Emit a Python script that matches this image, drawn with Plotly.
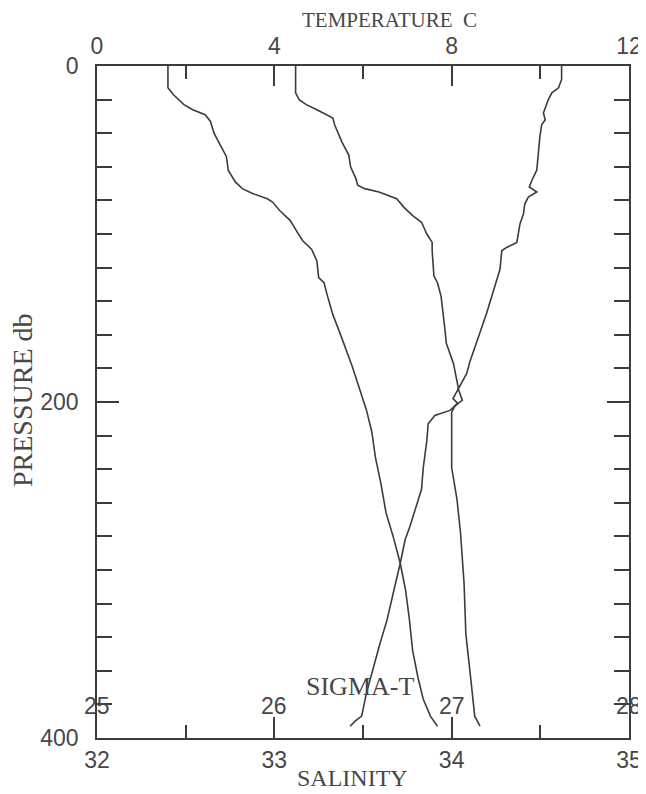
import plotly.graph_objects as go

# ---- data ----
sigma_p = [0, 13, 17, 23, 26, 29, 33, 40, 48, 54, 62, 69, 73, 76, 79, 81, 86, 92, 99, 104,
           109, 116, 126, 129, 137, 148, 159, 179, 205, 218, 233, 248, 266, 280, 296, 312,
           328, 348, 364, 377, 387, 393]
sigma_t = [25.40, 25.40, 25.43, 25.49, 25.54, 25.61, 25.64, 25.66, 25.70, 25.73, 25.74, 25.78,
           25.82, 25.88, 25.96, 25.99, 26.03, 26.09, 26.13, 26.16, 26.21, 26.24, 26.25, 26.28,
           26.30, 26.33, 26.37, 26.44, 26.52, 26.55, 26.57, 26.60, 26.63, 26.67, 26.71, 26.74,
           26.76, 26.78, 26.81, 26.84, 26.88, 26.92]

sal_p = [0, 16, 20, 23, 26, 31, 35, 45, 53, 60, 67, 71, 73, 75, 79, 84, 89, 93, 100, 105,
         110, 125, 129, 137, 155, 165, 177, 193, 199, 202, 206, 223, 239, 258, 278, 308,
         338, 367, 387, 393]
salinity = [33.12, 33.12, 33.14, 33.18, 33.24, 33.33, 33.34, 33.38, 33.42, 33.43, 33.46, 33.47,
            33.51, 33.59, 33.69, 33.73, 33.78, 33.83, 33.86, 33.89, 33.89, 33.90, 33.92, 33.94,
            33.96, 33.97, 34.01, 34.04, 34.06, 34.02, 34.00, 34.00, 34.00, 34.03, 34.05, 34.07,
            34.08, 34.11, 34.13, 34.16]

temp_p = [0, 8, 13, 16, 20, 25, 28, 32, 35, 42, 56, 62, 68, 72, 75, 78, 82, 88, 94, 100,
          105, 108, 110, 121, 127, 137, 147, 167, 176, 183, 193, 198, 201, 205, 208, 213,
          223, 239, 252, 258, 266, 274, 282, 296, 314, 330, 344, 358, 373, 387, 390, 393]
temperature = [10.48, 10.48, 10.41, 10.26, 10.18, 10.11, 10.07, 10.11, 10.03, 9.99, 9.95, 9.92,
               9.81, 9.75, 9.92, 9.73, 9.65, 9.62, 9.54, 9.50, 9.47, 9.24, 9.13, 9.09, 9.02,
               8.90, 8.79, 8.53, 8.41, 8.34, 8.14, 8.03, 8.14, 7.96, 7.62, 7.47, 7.44, 7.36,
               7.32, 7.25, 7.17, 7.06, 6.95, 6.84, 6.68, 6.54, 6.38, 6.23, 6.08, 5.97, 5.82, 5.71]

temp_ticks = [0, 4, 8, 12]
sal_ticks = [32, 33, 34, 35]
sigma_ticks = [25, 26, 27, 28]
pres_ticks = [0, 200, 400]

INK = "#3c3c3c"
TXT = "#474747"
NUM_FONT = dict(family="Liberation Sans, Arial, sans-serif", size=23, color=TXT)
SERIF = "Liberation Serif, Times New Roman, serif"

line_style = dict(color=INK, width=1.6)

fig = go.Figure()
fig.add_trace(go.Scatter(x=sigma_t, y=sigma_p, mode="lines", line=line_style,
                         xaxis="x3", yaxis="y", name="Sigma-t", showlegend=False))
fig.add_trace(go.Scatter(x=salinity, y=sal_p, mode="lines", line=line_style,
                         xaxis="x", yaxis="y", name="Salinity", showlegend=False))
fig.add_trace(go.Scatter(x=temperature, y=temp_p, mode="lines", line=line_style,
                         xaxis="x2", yaxis="y", name="Temperature", showlegend=False))
# dummy trace so the right-hand pressure axis is drawn
fig.add_trace(go.Scatter(x=[None], y=[None], xaxis="x", yaxis="y2", showlegend=False,
                         hoverinfo="skip"))

axis_common = dict(showline=True, linecolor=INK, linewidth=1.6, showgrid=False,
                   zeroline=False, ticks="inside", tickcolor=INK, tickwidth=1.6,
                   automargin=False)

sig_ann = [dict(x=v, y=381, xref="x3", yref="y", text=str(v), showarrow=False,
                font=NUM_FONT, xanchor="center", yanchor="middle") for v in sigma_ticks]

# the page body adds an 8px offset; figure is sized to fit the 646x794 window
OFF = 8
W, H = 646 - OFF, 794 - OFF
# plot box in page pixels: x 97..629, y 66..738
L = 97 - OFF
T = 66 - OFF
R = W - (629 - OFF)
B = H - (738 - OFF)
pw, ph = W - L - R, H - T - B

title_specs = [
    ("TEMPERATURE  C", 389, 20, 0, 21),
    ("SALINITY", 352, 778, 0, 24),
    ("PRESSURE db", 22, 400, -90, 28),
    ("SIGMA-T", 360, 686, 0, 26),
]
title_ann = []
for text, px, py, ang, size in title_specs:
    fx, fy = px - OFF, py - OFF
    title_ann.append(dict(
        x=(fx - L) / pw, y=(H - fy - B) / ph, xref="paper", yref="paper",
        text=text, textangle=ang, showarrow=False, xanchor="center", yanchor="middle",
        font=dict(family=SERIF, size=size, color=TXT)))

fig.update_layout(
    width=W, height=H,
    margin=dict(l=L, r=R, t=T, b=B, autoexpand=False),
    paper_bgcolor="white", plot_bgcolor="white",
    xaxis=dict(range=[32, 35], tickvals=sal_ticks, ticklen=21, side="bottom",
               tickfont=NUM_FONT, ticklabelstandoff=1,
               minor=dict(ticks="inside", dtick=0.5, tick0=32, ticklen=13,
                          tickcolor=INK, tickwidth=1.6),
               **axis_common),
    xaxis2=dict(range=[0, 12], tickvals=temp_ticks, ticklen=20, side="top",
                overlaying="x", anchor="y", tickfont=NUM_FONT, ticklabelstandoff=1,
                minor=dict(ticks="inside", dtick=2, tick0=0, ticklen=13,
                           tickcolor=INK, tickwidth=1.6),
                **axis_common),
    xaxis3=dict(range=[25, 28], overlaying="x", anchor="y", visible=False),
    yaxis=dict(range=[400, 0], tickvals=pres_ticks, ticklen=22,
               tickfont=NUM_FONT, ticklabelstandoff=12,
               minor=dict(ticks="inside", dtick=20, tick0=0, ticklen=15,
                          tickcolor=INK, tickwidth=1.6),
               **axis_common),
    yaxis2=dict(range=[400, 0], tickvals=pres_ticks, ticklen=22, side="right",
                overlaying="y", anchor="x", showticklabels=False,
                minor=dict(ticks="inside", dtick=20, tick0=0, ticklen=15,
                           tickcolor=INK, tickwidth=1.6),
                **axis_common),
    annotations=sig_ann + title_ann,
)

fig.write_html("out.html")
